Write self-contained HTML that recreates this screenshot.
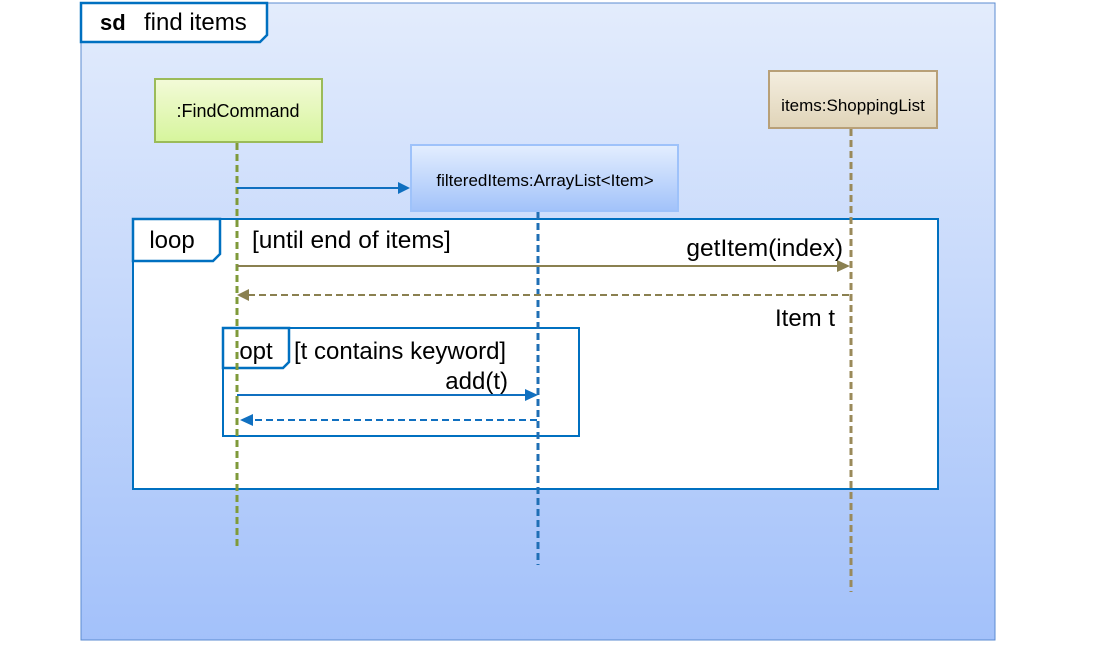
<!DOCTYPE html>
<html><head><style>body{margin:0;background:#fff}svg{display:block}</style></head><body>
<svg width="1113" height="651" viewBox="0 0 1113 651" xmlns="http://www.w3.org/2000/svg" font-family="Liberation Sans, sans-serif">
<defs>
<linearGradient id="bg" x1="0" y1="0" x2="0" y2="1"><stop offset="0" stop-color="#e3ecfc"/><stop offset="1" stop-color="#a3c1fa"/></linearGradient>
<linearGradient id="g1" x1="0" y1="0" x2="0" y2="1"><stop offset="0" stop-color="#f3fad8"/><stop offset="1" stop-color="#d6f59c"/></linearGradient>
<linearGradient id="g2" x1="0" y1="0" x2="0" y2="1"><stop offset="0" stop-color="#e4eefe"/><stop offset="1" stop-color="#a2c2fa"/></linearGradient>
<linearGradient id="g3" x1="0" y1="0" x2="0" y2="1"><stop offset="0" stop-color="#f4eee0"/><stop offset="1" stop-color="#e0d4b8"/></linearGradient>
</defs>
<rect x="81" y="3" width="914" height="637" fill="url(#bg)" stroke="#5b8bd0" stroke-width="1"/>
<path d="M81,3 H267 V35 L260,42 H81 Z" fill="#fff" stroke="#0070c0" stroke-width="2.5"/>
<text x="100" y="30" font-size="22" font-weight="bold">sd</text>
<text x="144" y="30" font-size="24">find items</text>

<rect x="133" y="219" width="805" height="270" fill="#fff" stroke="#0070c0" stroke-width="2"/>
<path d="M133,219 H220 V254 L213,261 H133 Z" fill="#fff" stroke="#0070c0" stroke-width="2.5"/>
<text x="172" y="248" font-size="24" text-anchor="middle">loop</text>
<text x="252" y="248" font-size="24.5">[until end of items]</text>

<rect x="223" y="328" width="356" height="108" fill="#fff" stroke="#0070c0" stroke-width="2"/>
<path d="M223,328 H289 V362 L283,368 H223 Z" fill="#fff" stroke="#0070c0" stroke-width="2.5"/>
<text x="256" y="359" font-size="24" text-anchor="middle">opt</text>
<text x="294" y="359" font-size="24">[t contains keyword]</text>

<line x1="237" y1="143" x2="237" y2="547" stroke="#7f9a3a" stroke-width="3" stroke-dasharray="7,4"/>
<line x1="538" y1="212" x2="538" y2="565" stroke="#1f6fb5" stroke-width="3" stroke-dasharray="7,4"/>
<line x1="851" y1="129" x2="851" y2="592" stroke="#9a8a5a" stroke-width="3" stroke-dasharray="7,4"/>

<rect x="155" y="79" width="167" height="63" fill="url(#g1)" stroke="#9bbb59" stroke-width="2"/>
<text x="238" y="117" font-size="18" text-anchor="middle">:FindCommand</text>
<rect x="411" y="145" width="267" height="66" fill="url(#g2)" stroke="#9ec2fa" stroke-width="2"/>
<text x="545" y="186" font-size="17" text-anchor="middle">filteredItems:ArrayList&lt;Item&gt;</text>
<rect x="769" y="71" width="168" height="57" fill="url(#g3)" stroke="#b8a078" stroke-width="2"/>
<text x="853" y="111" font-size="17" text-anchor="middle">items:ShoppingList</text>

<line x1="237" y1="188" x2="400" y2="188" stroke="#1070c0" stroke-width="2"/>
<path d="M410,188 L398,182 V194 Z" fill="#1070c0"/>

<line x1="237" y1="266" x2="838" y2="266" stroke="#8a8050" stroke-width="2"/>
<path d="M850,266 L837,260 V272 Z" fill="#8a8050"/>
<text x="843" y="256" font-size="24.5" text-anchor="end">getItem(index)</text>
<line x1="849" y1="295" x2="248" y2="295" stroke="#8a8050" stroke-width="2" stroke-dasharray="7,4"/>
<path d="M237,295 L249,289 V301 Z" fill="#8a8050"/>
<text x="835" y="326" font-size="24" text-anchor="end">Item t</text>

<text x="508" y="389" font-size="24" text-anchor="end">add(t)</text>
<line x1="237" y1="395" x2="526" y2="395" stroke="#1070c0" stroke-width="2"/>
<path d="M538,395 L525,389 V401 Z" fill="#1070c0"/>
<line x1="537" y1="420" x2="252" y2="420" stroke="#1070c0" stroke-width="2" stroke-dasharray="7,4"/>
<path d="M240,420 L253,414 V426 Z" fill="#1070c0"/>
</svg>
</body></html>
